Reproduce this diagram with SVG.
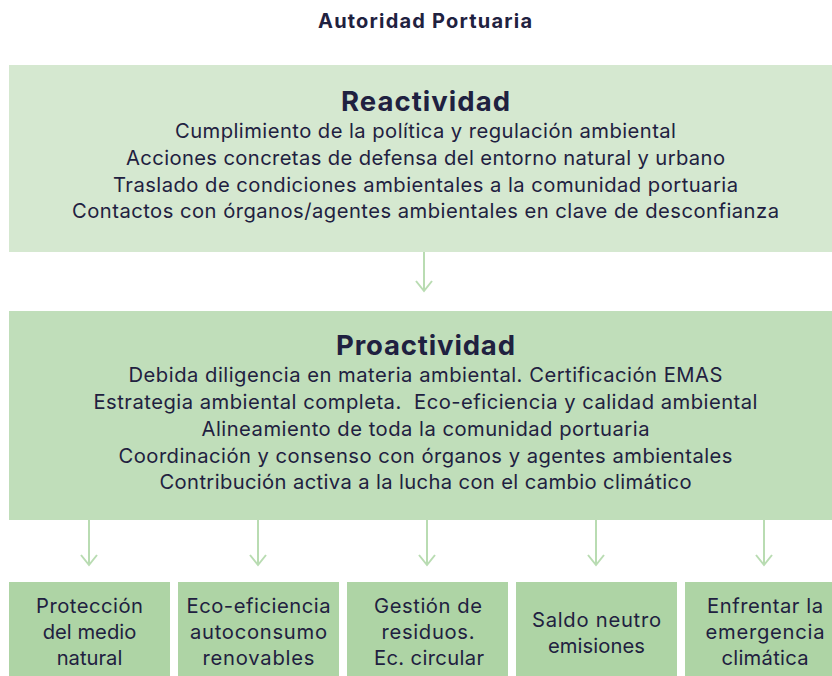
<svg xmlns="http://www.w3.org/2000/svg" width="832" height="676" viewBox="0 0 832 676">
<style>
  text { font-family: Inter, "Liberation Sans", sans-serif; fill: #1f2140; text-anchor: middle; white-space: pre; }
  .t { font-size: 20px; font-weight: 700; }
  .h { font-size: 27.5px; font-weight: 700; }
  .b { font-size: 20.2px; font-weight: 400; }
  .conn { stroke: #b9dcb2; stroke-width: 2; fill: none; }
</style>
<defs>
  <marker id="arr" markerWidth="14" markerHeight="20" refX="11" refY="9" orient="auto" markerUnits="userSpaceOnUse" viewBox="0 0 14 18">
    <path d="M1,1 L11,9 L1,17" fill="none" stroke="#b9dcb2" stroke-width="2"/>
  </marker>
</defs>
<rect width="832" height="676" fill="#ffffff"/>

<g id="title">
  <text class="t" x="425" y="28" textLength="214">Autoridad Portuaria</text>
</g>

<g id="reactividad">
  <rect x="9" y="65" width="832" height="187" fill="#d5e8d0"/>
  <text class="h" x="425.5" y="111" textLength="169">Reactividad</text>
  <text class="b" x="425.5" y="138" textLength="501">Cumplimiento de la política y regulación ambiental</text>
  <text class="b" x="425.5" y="165" textLength="599">Acciones concretas de defensa del entorno natural y urbano</text>
  <text class="b" x="425.5" y="192" textLength="625">Traslado de condiciones ambientales a la comunidad portuaria</text>
  <text class="b" x="425.5" y="218" textLength="707">Contactos con órganos/agentes ambientales en clave de desconfianza</text>
</g>

<g id="proactividad">
  <rect x="9" y="311" width="832" height="209" fill="#c0deba"/>
  <text class="h" x="425.5" y="355" textLength="179">Proactividad</text>
  <text class="b" x="425.5" y="382" textLength="594">Debida diligencia en materia ambiental. Certificación EMAS</text>
  <text class="b" x="425.5" y="409" textLength="664">Estrategia ambiental completa.  Eco-eficiencia y calidad ambiental</text>
  <text class="b" x="425.5" y="436" textLength="448">Alineamiento de toda la comunidad portuaria</text>
  <text class="b" x="425.5" y="463" textLength="614">Coordinación y consenso con órganos y agentes ambientales</text>
  <text class="b" x="425.5" y="489" textLength="532">Contribución activa a la lucha con el cambio climático</text>
</g>

<g id="proteccion">
  <rect x="9" y="582" width="161" height="94" fill="#aed4a5"/>
  <text class="b" x="89.5" y="613" textLength="107">Protección</text>
  <text class="b" x="89.5" y="639">del medio</text>
  <text class="b" x="89.5" y="665">natural</text>
</g>

<g id="ecoeficiencia">
  <rect x="178" y="582" width="161" height="94" fill="#aed4a5"/>
  <text class="b" x="258.5" y="613" textLength="144">Eco-eficiencia</text>
  <text class="b" x="258.5" y="639" textLength="137">autoconsumo</text>
  <text class="b" x="258.5" y="665" textLength="112">renovables</text>
</g>

<g id="residuos">
  <rect x="347" y="582" width="161" height="94" fill="#aed4a5"/>
  <text class="b" x="428" y="613" textLength="108">Gestión de</text>
  <text class="b" x="428" y="639" textLength="93">residuos.</text>
  <text class="b" x="429" y="665" textLength="110">Ec. circular</text>
</g>

<g id="emisiones">
  <rect x="516" y="582" width="161" height="94" fill="#aed4a5"/>
  <text class="b" x="596.5" y="627" textLength="129">Saldo neutro</text>
  <text class="b" x="596.5" y="653" textLength="97">emisiones</text>
</g>

<g id="emergencia">
  <rect x="685" y="582" width="161" height="94" fill="#aed4a5"/>
  <text class="b" x="765" y="613" textLength="116">Enfrentar la</text>
  <text class="b" x="765" y="639" textLength="119">emergencia</text>
  <text class="b" x="765" y="665" textLength="87">climática</text>
</g>

<g id="connectors">
  <line class="conn" x1="424" y1="252" x2="424" y2="291" marker-end="url(#arr)"/>
  <line class="conn" x1="89" y1="520" x2="89" y2="565" marker-end="url(#arr)"/>
  <line class="conn" x1="258" y1="520" x2="258" y2="565" marker-end="url(#arr)"/>
  <line class="conn" x1="427" y1="520" x2="427" y2="565" marker-end="url(#arr)"/>
  <line class="conn" x1="596" y1="520" x2="596" y2="565" marker-end="url(#arr)"/>
  <line class="conn" x1="764" y1="520" x2="764" y2="565" marker-end="url(#arr)"/>
</g>
</svg>
